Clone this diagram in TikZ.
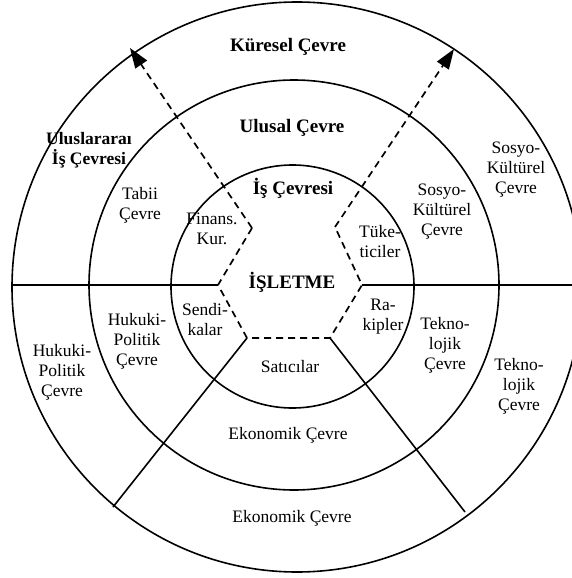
\documentclass[tikz,border=0pt]{standalone}
\usepackage{fontspec}
\setmainfont{Liberation Serif}
\usetikzlibrary{arrows.meta}
\begin{document}
\begin{tikzpicture}[x=1pt,y=-1pt,
  ln/.style={line width=1.6pt},
  dsh/.style={line width=1.7pt, dash pattern=on 7pt off 5pt},
  lbl/.style={font=\fontsize{17.5}{20}\selectfont, align=center, inner sep=0pt},
  blbl/.style={font=\fontsize{19}{21}\selectfont\bfseries, align=center, inner sep=0pt},
  sblbl/.style={font=\fontsize{17.5}{20}\selectfont\bfseries, align=center, inner sep=0pt},
  tip/.style={-{Triangle[length=20pt,width=14pt]}}
]
\useasboundingbox (0,0) rectangle (572,578);
\fill[white] (0,0) rectangle (572,578);
\begin{scope}
\clip (0,0) rectangle (572,578);
% rings
\draw[ln] (297,287) circle[radius=285];
\draw[ln] (294,285) circle[radius=205];
\draw[ln] (292.5,286.5) circle[radius=121.5];
% hexagon vertices and ends
\coordinate (UL) at (252,228);
\coordinate (L) at (218,285);
\coordinate (LL) at (247,338);
\coordinate (LR) at (330,338);
\coordinate (R) at (362,285);
\coordinate (UR) at (335,227);
\coordinate (AL) at (130,48);
\coordinate (AR) at (454,49);
\coordinate (SL) at (113,507);
\coordinate (SR) at (465,512);
\coordinate (HL) at (12,285);
\coordinate (HR) at (580,285);
% dashed hexagon
\draw[dsh] (UL) -- (L) -- (LL) -- (LR) -- (R) -- (UR);
\draw[dsh,tip] (UL) -- (AL);
\draw[dsh,tip] (UR) -- (AR);
% solid dividers
\draw[ln] (HL) -- (L);
\draw[ln] (R) -- (HR);
\draw[ln] (LL) -- (SL);
\draw[ln] (LR) -- (SR);
\end{scope}
% labels
\node[blbl] (kures) at (288,47) {Küresel Çevre};
\node[blbl] (ulusal) at (292,128) {Ulusal Çevre};
\node[sblbl] (ulusl) at (89,150) {Uluslararaı\\İş Çevresi};
\node[lbl] (tabii) at (140,205) {Tabii\\Çevre};
\node[blbl] (iscev) at (293,188) {İş Çevresi};
\node[lbl] (finans) at (212,229) {Finans.\\Kur.};
\node[lbl] (tuke) at (380,242) {Tüke-\\ticiler};
\node[blbl] (isletme) at (292,282) {İŞLETME};
\node[lbl] (sendi) at (205,320) {Sendi-\\kalar};
\node[lbl] (rakip) at (383,317) {Ra-\\kipler};
\node[lbl] (satici) at (290,367) {Satıcılar};
\node[lbl] (sosm) at (442,212) {Sosyo-\\Kültürel\\Çevre};
\node[lbl] (soso) at (516,170) {Sosyo-\\Kültürel\\Çevre};
\node[lbl] (hukm) at (137,341) {Hukuki-\\Politik\\Çevre};
\node[lbl] (huko) at (62,372) {Hukuki-\\Politik\\Çevre};
\node[lbl] (tekm) at (445,345) {Tekno-\\lojik\\Çevre};
\node[lbl] (teko) at (519,386) {Tekno-\\lojik\\Çevre};
\node[lbl] (ekom) at (288,435) {Ekonomik Çevre};
\node[lbl] (ekoo) at (292,518) {Ekonomik Çevre};
\end{tikzpicture}
\end{document}
